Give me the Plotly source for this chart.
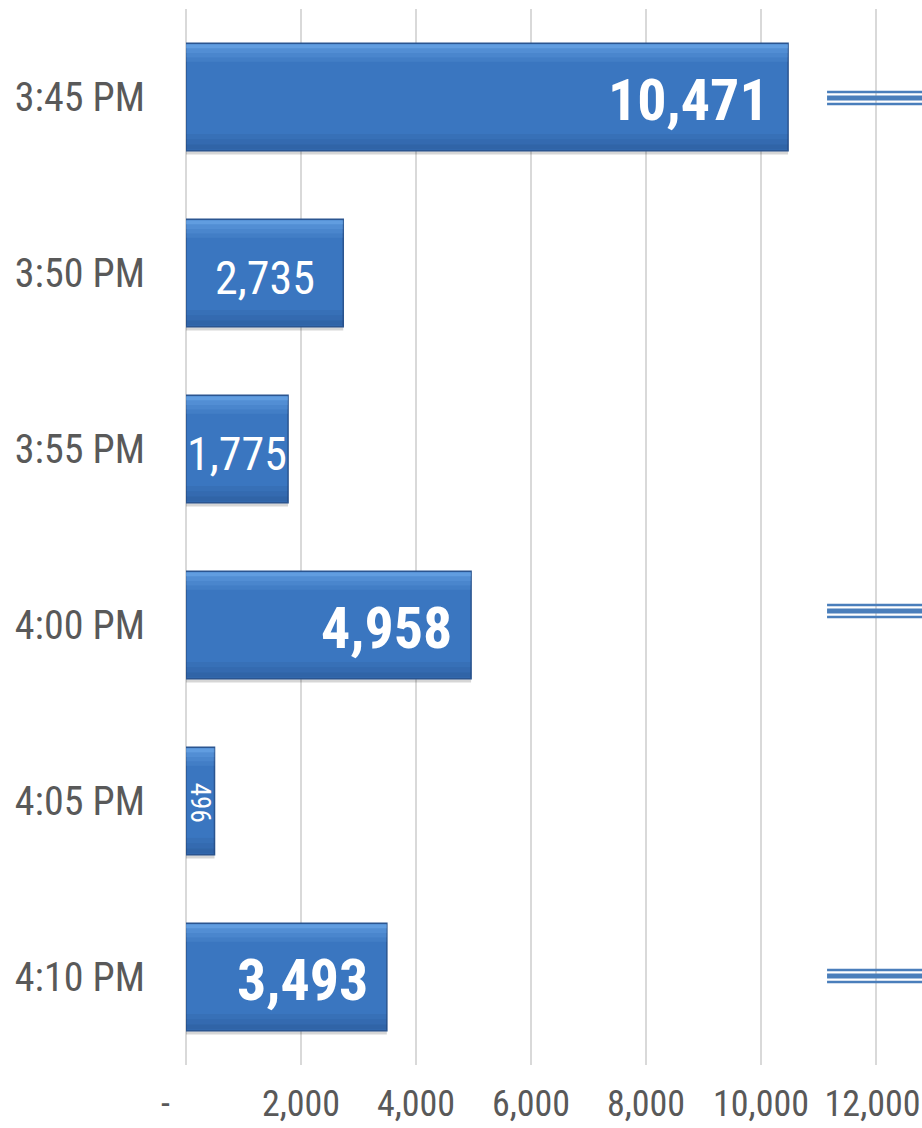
import plotly.graph_objects as go

# ---- data ----
times = ["3:45 PM", "3:50 PM", "3:55 PM", "4:00 PM", "4:05 PM", "4:10 PM"]
counts = [10471, 2735, 1775, 4958, 496, 3493]
x_tick_vals = [0, 2000, 4000, 6000, 8000, 10000, 12000]
x_tick_text = ["-     ", "2,000", "4,000", "6,000", "8,000", "10,000", "12,000\u2009"]
flagged_rows = ["3:45 PM", "4:00 PM", "4:10 PM"]

# ---- style ----
label_style = ["bold", "plain", "plain", "bold", "rot", "bold"]
label_size = {"bold": 58, "plain": 46, "rot": 27}
flag_pix_offset = {"3:45 PM": -1, "4:00 PM": 14, "4:10 PM": 1}
NARROW = "Liberation Sans Narrow, Arial Narrow, Roboto Condensed, Arial, sans-serif"
BAR = "#3a76c0"
BAR_EDGE = "#2b5590"
GRID = "#d9d9d9"
TXT = "#595959"
W = 0.61

fig = go.Figure()
# shadow
fig.add_trace(go.Bar(y=times, x=counts, orientation="h", width=W, offset=-W / 2 + 0.022,
                     marker=dict(color="rgba(0,0,0,0.16)", line=dict(width=0)),
                     hoverinfo="skip", showlegend=False))
# main bar
fig.add_trace(go.Bar(y=times, x=counts, orientation="h", width=W, offset=-W / 2,
                     marker=dict(color=BAR, line=dict(color=BAR_EDGE, width=1.5)),
                     showlegend=False))
# soft gradient highlights (top lighter, bottom darker)
for k, a in enumerate([0.55, 0.35, 0.22, 0.12]):
    fig.add_trace(go.Bar(y=times, x=counts, orientation="h", width=0.025,
                         offset=-W / 2 + 0.005 + 0.025 * k,
                         marker=dict(color=f"rgba(130,190,250,{a})", line=dict(width=0)),
                         hoverinfo="skip", showlegend=False))
for k, a in enumerate([0.10, 0.18, 0.28]):
    fig.add_trace(go.Bar(y=times, x=counts, orientation="h", width=0.03,
                         offset=W / 2 - 0.095 + 0.03 * k,
                         marker=dict(color=f"rgba(25,55,105,{a})", line=dict(width=0)),
                         hoverinfo="skip", showlegend=False))

annotations = []
for t, v, s in zip(times, counts, label_style):
    txt = f"{v:,}"
    if s == "bold":
        annotations.append(dict(x=v, y=t, xref="x", yref="y", text=f"<b>{txt}</b>", showarrow=False,
                                xanchor="right", xshift=-17, yshift=-3,
                                font=dict(family=NARROW, size=label_size[s], color="white")))
    elif s == "plain":
        annotations.append(dict(x=v / 2, y=t, xref="x", yref="y", text=txt, showarrow=False,
                                xanchor="center", yshift=-5,
                                font=dict(family=NARROW, size=label_size[s], color="white")))
    else:
        annotations.append(dict(x=v / 2, y=t, xref="x", yref="y", text=txt, showarrow=False,
                                textangle=90, xanchor="center", yanchor="middle", yshift=-2,
                                font=dict(family=NARROW, size=label_size[s], color="white")))

shapes = []
for t in flagged_rows:
    idx = times.index(t)
    off = flag_pix_offset[t]
    for dy, lw in [(-6, 2.5), (0, 5), (6, 2.5)]:
        shapes.append(dict(type="line", xref="paper", yref="y", xsizemode="scaled",
                           ysizemode="pixel", yanchor=idx, x0=0.871, x1=1.0,
                           y0=off - dy, y1=off - dy, line=dict(color="#4a7ebb", width=lw)))

fig.update_layout(
    width=922, height=1128,
    margin=dict(l=186, r=0, t=9, b=63, autoexpand=False),
    paper_bgcolor="white", plot_bgcolor="white",
    barmode="overlay",
    annotations=annotations, shapes=shapes,
    font=dict(family=NARROW, color=TXT),
)
fig.update_xaxes(range=[0, 12800], tickvals=x_tick_vals, ticktext=x_tick_text,
                 showgrid=True, gridcolor=GRID, gridwidth=1.5,
                 zeroline=True, zerolinecolor=GRID, zerolinewidth=1.5,
                 showline=False, ticks="", tickfont=dict(size=36, color=TXT),
                 ticklabelstandoff=14, ticklabeloverflow="allow", automargin=False)
fig.update_yaxes(categoryorder="array", categoryarray=times, autorange="reversed",
                 showgrid=False, showline=False, ticks="", tickfont=dict(size=40, color=TXT),
                 ticklabelstandoff=40, automargin=False)

fig.write_html("out.html", config={"displayModeBar": False},
               post_script="document.body.style.margin='0';document.body.style.overflow='hidden';")
